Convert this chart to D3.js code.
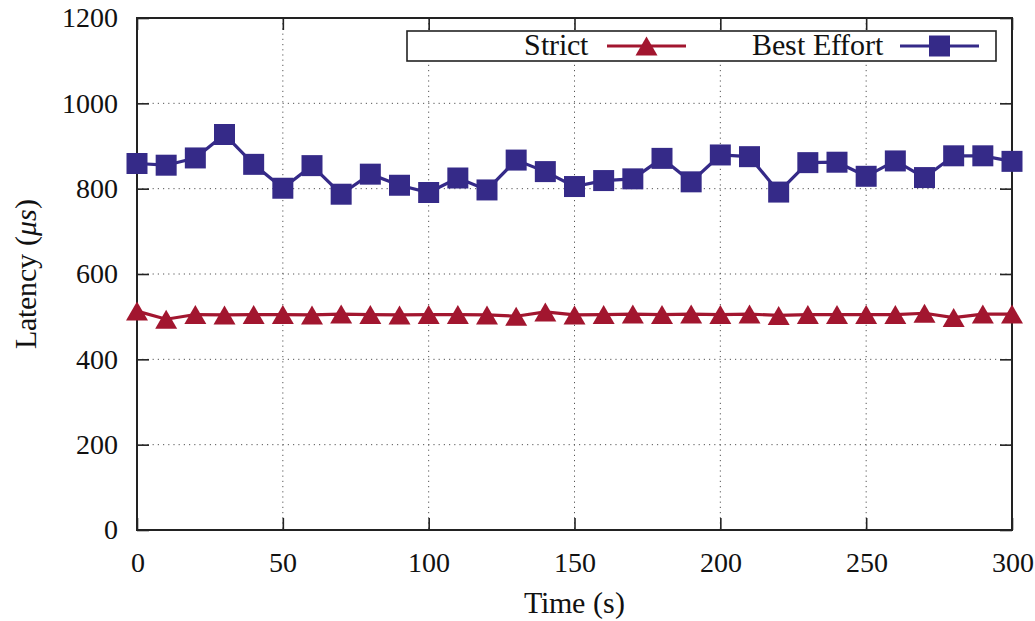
<!DOCTYPE html>
<html><head><meta charset="utf-8"><script src="https://cdn.jsdelivr.net/npm/d3@7"></script>
<style>
@font-face { font-family: "ChartSerif"; src: local("Liberation Serif"), local("LiberationSerif"), local("Liberation Serif Regular"); font-style: normal; }
@font-face { font-family: "ChartSerif"; src: local("Liberation Serif Italic"), local("LiberationSerif-Italic"); font-style: italic; }
svg text { font-family: "ChartSerif", "Liberation Serif", serif !important; }
</style>
</head>
<body style="margin:0">
<svg id="chart" width="1035" height="621"></svg>
<script>
const times = [0,10,20,30,40,50,60,70,80,90,100,110,120,130,140,150,160,170,180,190,200,210,220,230,240,250,260,270,280,290,300];
const strictValues = [513,494,505,504,505,505,504,506,505,504,505,505,504,501,511,504,505,506,505,506,505,506,503,505,505,505,505,508,498,506,506];
const bestEffortValues = [859,855,872,927,857,801,854,787,834,808,791,825,797,867,840,805,819,823,871,816,879,875,792,861,862,829,865,826,877,877,864];
const xTicks = [0,50,100,150,200,250,300];
const yTicks = [0,200,400,600,800,1000,1200];
const seriesNames = ["Strict", "Best Effort"];
const seriesColors = ["#a2162f", "#352a88"];

const svg = d3.select("#chart");
const pLeft = 137, pRight = 1012, pTop = 18, pBottom = 530;
const x = d3.scaleLinear().domain([0, 300]).range([pLeft, pRight]);
const y = d3.scaleLinear().domain([0, 1200]).range([pBottom, pTop]);

// grid
const grid = svg.append("g");
grid.selectAll("line.gx").data(xTicks.slice(1, -1)).join("line")
  .attr("x1", d => x(d)).attr("x2", d => x(d))
  .attr("y1", pTop).attr("y2", pBottom)
  .attr("stroke", "#555").attr("stroke-width", 1).attr("stroke-dasharray", "1.2,4");
grid.selectAll("line.gy").data(yTicks.slice(1, -1)).join("line")
  .attr("x1", pLeft).attr("x2", pRight)
  .attr("y1", d => y(d)).attr("y2", d => y(d))
  .attr("stroke", "#555").attr("stroke-width", 1).attr("stroke-dasharray", "1.2,4");

// axes with inward ticks
const tickLen = 12;
const fmt = d3.format("d");
const xAxisB = d3.axisBottom(x).tickValues(xTicks).tickFormat(fmt).tickSizeInner(-tickLen).tickSizeOuter(0).tickPadding(22);
const xAxisT = d3.axisTop(x).tickValues(xTicks).tickSizeInner(-tickLen).tickSizeOuter(0).tickFormat("");
const yAxisL = d3.axisLeft(y).tickValues(yTicks).tickFormat(fmt).tickSizeInner(-tickLen).tickSizeOuter(0).tickPadding(19);
const yAxisR = d3.axisRight(y).tickValues(yTicks).tickSizeInner(-tickLen).tickSizeOuter(0).tickFormat("");

function styleAxis(g) {
  g.attr("font-family", null).attr("font-size", null);
  g.select(".domain").remove();
  g.selectAll(".tick line").attr("stroke", "#222").attr("stroke-width", 1.6);
  g.selectAll(".tick text").attr("fill", "#111").attr("font-size", 28);
}
svg.append("g").attr("transform", `translate(0,${pBottom})`).call(xAxisB).call(styleAxis);
svg.append("g").attr("transform", `translate(0,${pTop})`).call(xAxisT).call(styleAxis);
svg.append("g").attr("transform", `translate(${pLeft},0)`).call(yAxisL).call(styleAxis);
svg.append("g").attr("transform", `translate(${pRight},0)`).call(yAxisR).call(styleAxis);

// frame
svg.append("rect").attr("x", pLeft).attr("y", pTop)
  .attr("width", pRight - pLeft).attr("height", pBottom - pTop)
  .attr("fill", "none").attr("stroke", "#222").attr("stroke-width", 2);

// symbols
const triangleType = {
  draw(context, size) {
    const w = 11, h = 9.5;
    context.moveTo(0, -h);
    context.lineTo(w, h);
    context.lineTo(-w, h);
    context.closePath();
  }
};
const squareType = {
  draw(context, size) {
    const s = 10.5;
    context.rect(-s, -s, 2 * s, 2 * s);
  }
};
const symbolTypes = [triangleType, squareType];
const allSeries = [strictValues, bestEffortValues];

const line = d3.line().x(d => x(d[0])).y(d => y(d[1]));

allSeries.forEach((vals, i) => {
  const pts = times.map((t, j) => [t, vals[j]]);
  const g = svg.append("g");
  g.append("path").datum(pts).attr("d", line)
    .attr("fill", "none").attr("stroke", seriesColors[i]).attr("stroke-width", 3.2)
    .attr("stroke-linejoin", "miter");
  g.selectAll("path.m").data(pts).join("path")
    .attr("class", "m")
    .attr("transform", d => `translate(${x(d[0])},${y(d[1])})`)
    .attr("d", d3.symbol().type(symbolTypes[i])())
    .attr("fill", seriesColors[i]);
});

// legend
const lg = svg.append("g");
lg.append("rect").attr("x", 407).attr("y", 31).attr("width", 589).attr("height", 30)
  .attr("fill", "#fff").attr("stroke", "#222").attr("stroke-width", 1.6);
const legendTextRight = [588, 883];
const legendSample = [[607, 686], [900, 979]];
seriesNames.forEach((name, i) => {
  svg.append("text").attr("x", legendTextRight[i]).attr("y", 55)
    .attr("text-anchor", "end").attr("font-size", 30).attr("fill", "#111")
    .text(name);
  lg.append("line").attr("x1", legendSample[i][0]).attr("x2", legendSample[i][1])
    .attr("y1", 46).attr("y2", 46)
    .attr("stroke", seriesColors[i]).attr("stroke-width", 3.2);
  lg.append("path")
    .attr("transform", `translate(${(legendSample[i][0] + legendSample[i][1]) / 2},46)`)
    .attr("d", d3.symbol().type(symbolTypes[i])())
    .attr("fill", seriesColors[i]);
});

// axis titles
svg.append("text").attr("x", 574).attr("y", 613).attr("text-anchor", "middle")
  .attr("font-size", 30).attr("fill", "#111")
  .text("Time (s)");
const yl = svg.append("text").attr("transform", "translate(36,274) rotate(-90)")
  .attr("text-anchor", "middle").attr("font-size", 30).attr("fill", "#111");
yl.append("tspan").text("Latency (");
yl.append("tspan").attr("font-style", "italic").text("μs");
yl.append("tspan").text(")");
</script>
</body>
</html>
